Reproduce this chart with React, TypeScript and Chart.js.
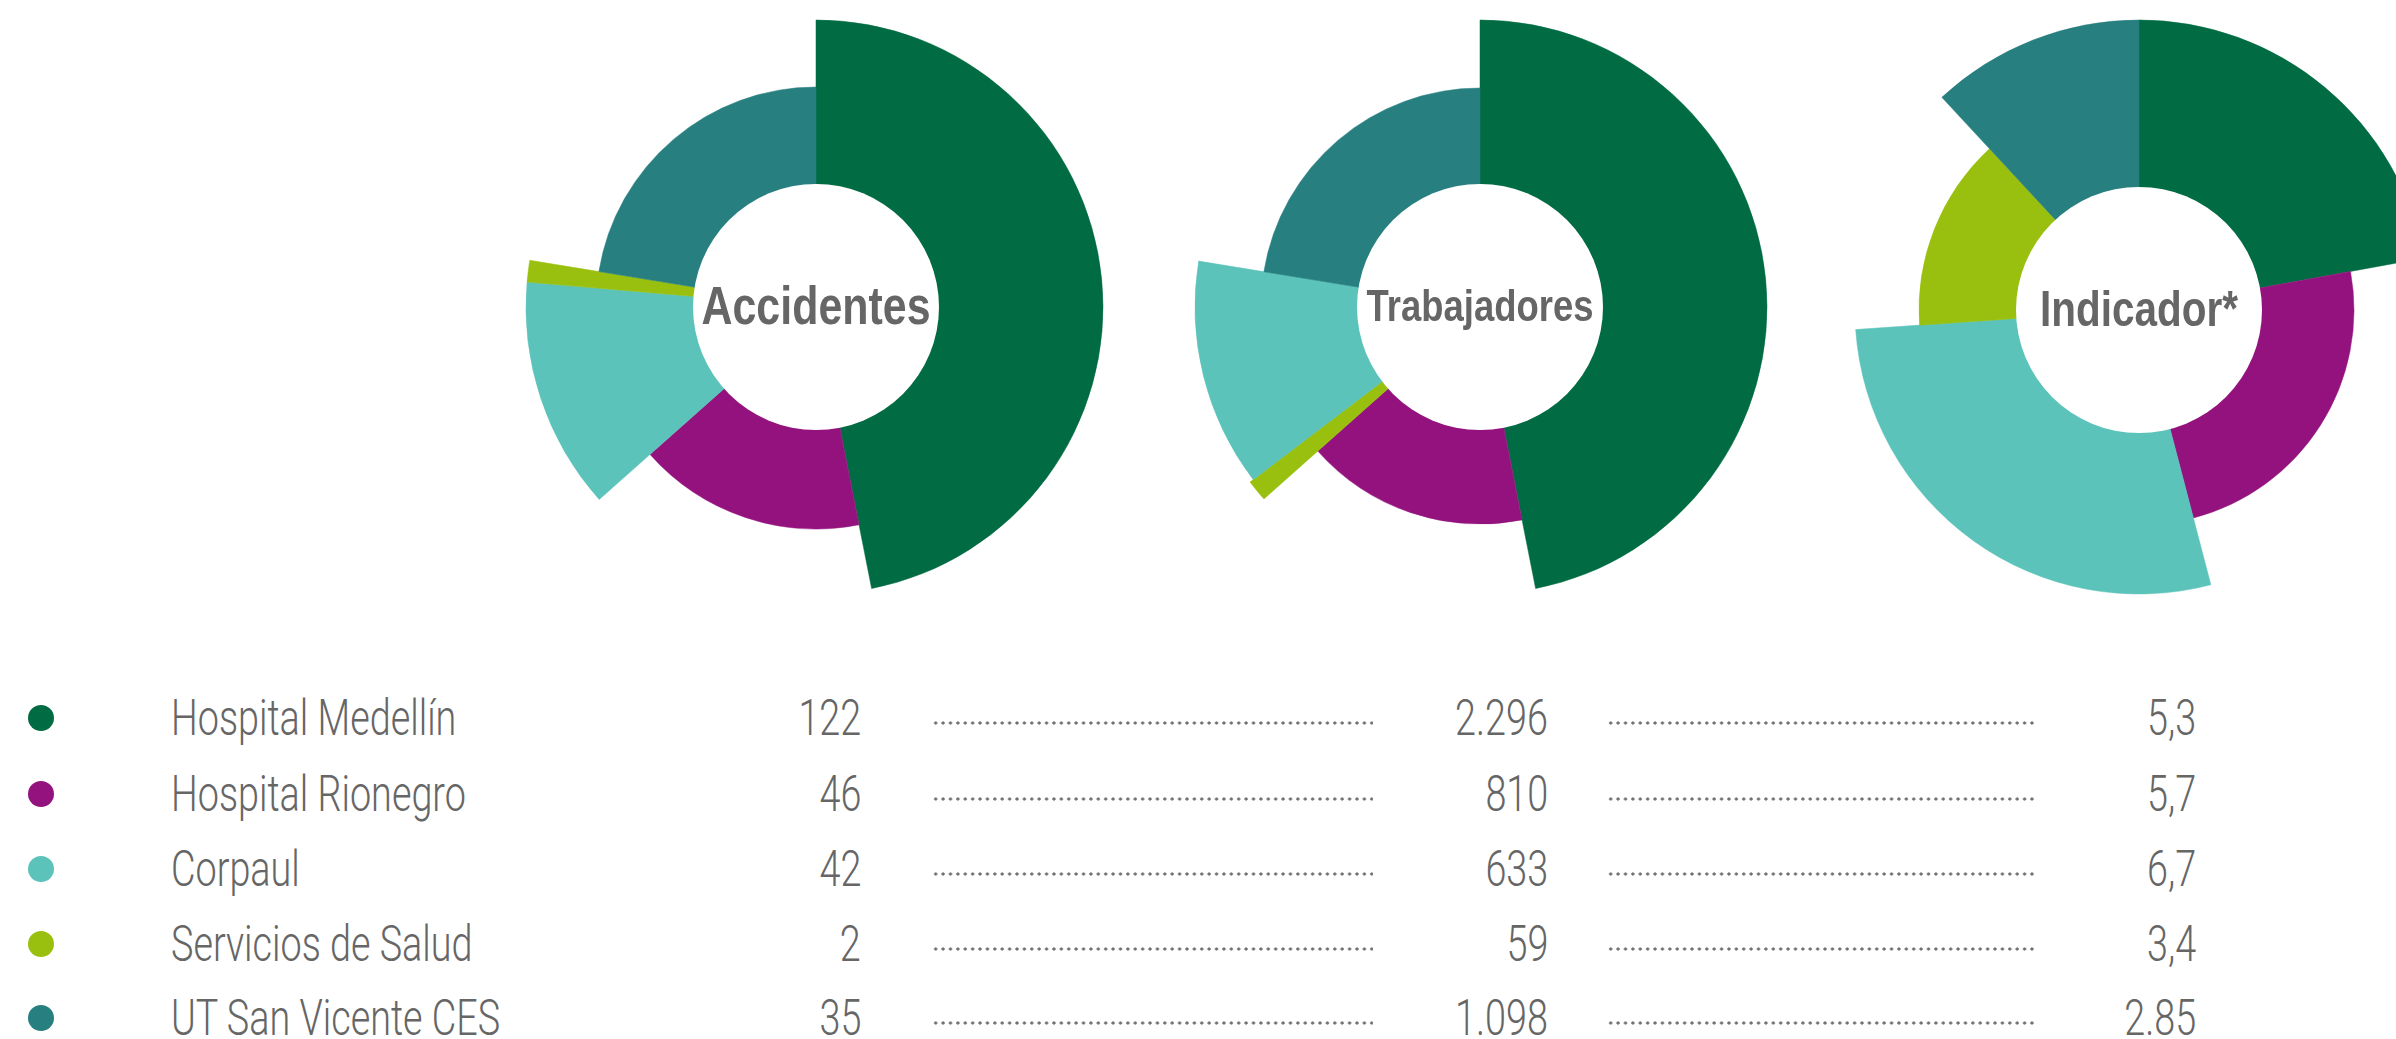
import React, { useEffect, useRef } from 'react';
import { Chart, registerables } from 'chart.js';

Chart.register(...registerables);

// ---------- data ----------
const entities = ['Hospital Medellín', 'Hospital Rionegro', 'Corpaul', 'Servicios de Salud', 'UT San Vicente CES'];
const colors = ['#016b43', '#94127e', '#5bc3ba', '#99c00f', '#287f80'];

const accidentes = [122, 46, 42, 2, 35];
const trabajadores = [2296, 810, 633, 59, 1098];
const indicador = [5.3, 5.7, 6.7, 3.4, 2.85];

const accidentesLabels = ['122', '46', '42', '2', '35'];
const trabajadoresLabels = ['2.296', '810', '633', '59', '1.098'];
const indicadorLabels = ['5,3', '5,7', '6,7', '3,4', '2.85'];

// slice order (entity index) clockwise from 12 o'clock, as drawn in each wheel
const accidentesOrder = [0, 1, 2, 3, 4];
const trabajadoresOrder = [0, 1, 3, 2, 4];
const indicadorOrder = [0, 1, 2, 3, 4];

// outer radius of each slice (entity order)
const accidentesRadius = [287, 222, 290, 290, 220];
const trabajadoresRadius = [287, 217, 285, 289, 219];
const indicadorRadius = [290, 215, 284, 220, 290];

// the sweep of each wheel: the "Accidentes" wheel in the original reuses the worker shares
const accidentesSweep = trabajadores;
const trabajadoresSweep = trabajadores;
const indicadorSweep = indicador;

// ---------- styling ----------
const TITLE_FONT = '"Liberation Sans", Arial, sans-serif';
const TEXT_FONT = 'Roboto, "Liberation Sans", sans-serif';
const TEXT = '#666666';
const SIZE = 600;
const HALF = SIZE / 2;

type WheelProps = {
  title: string;
  titleSize: number;
  order: number[];
  radius: number[];
  sweep: number[];
  cx: number;
  cy: number;
};

function Wheel({ title, titleSize, order, radius, sweep, cx, cy }: WheelProps) {
  const ref = useRef<HTMLCanvasElement | null>(null);
  useEffect(() => {
    if (!ref.current) return;
    const total = sweep.reduce((a, b) => a + b, 0);
    const angles = order.map((i) => (sweep[i] / total) * 360);
    const chart = new Chart(ref.current, {
      type: 'polarArea',
      data: {
        labels: order.map((i) => entities[i]),
        datasets: [
          {
            data: order.map((i) => radius[i]),
            backgroundColor: order.map((i) => colors[i]),
            borderColor: order.map((i) => colors[i]),
            borderWidth: 0.5,
            angle: (ctx: any) => angles[ctx.dataIndex],
          } as any,
        ],
      },
      options: {
        responsive: false,
        animation: false,
        devicePixelRatio: 1,
        events: [],
        layout: { padding: 0 },
        plugins: { legend: { display: false }, tooltip: { enabled: false } },
        scales: { r: { display: false, min: 0, max: HALF } },
      },
      plugins: [
        {
          id: 'centerLabel',
          afterDatasetsDraw(c: any) {
            const s = c.scales.r;
            const g = c.ctx;
            g.save();
            g.beginPath();
            g.arc(s.xCenter, s.yCenter, 123, 0, Math.PI * 2);
            g.fillStyle = '#ffffff';
            g.fill();
            g.translate(s.xCenter, s.yCenter + 2);
            g.scale(0.81, 1);
            g.fillStyle = TEXT;
            g.font = `bold ${titleSize}px ${TITLE_FONT}`;
            g.textAlign = 'center';
            g.textBaseline = 'middle';
            g.fillText(title, 0, 0);
            g.restore();
          },
        },
      ],
    });
    return () => chart.destroy();
  }, []);
  return (
    <canvas
      ref={ref}
      width={SIZE}
      height={SIZE}
      style={{ position: 'absolute', left: cx - HALF, top: cy - HALF, width: SIZE, height: SIZE }}
    />
  );
}

const rowY = [718, 794, 869, 944, 1018];

function Legend() {
  const textStyle: React.CSSProperties = {
    position: 'absolute',
    fontFamily: TEXT_FONT,
    fontWeight: 300,
    fontSize: 50,
    lineHeight: '50px',
    color: TEXT,
    whiteSpace: 'nowrap',
  };
  const left: React.CSSProperties = {
    ...textStyle,
    transform: 'translateY(-50%) scaleX(0.755)',
    transformOrigin: 'left center',
  };
  const right: React.CSSProperties = {
    ...textStyle,
    textAlign: 'right',
    transform: 'translateY(-50%) scaleX(0.755)',
    transformOrigin: 'right center',
  };
  const dots: React.CSSProperties = {
    position: 'absolute',
    height: 4,
    backgroundImage: 'radial-gradient(circle, #707070 1.3px, rgba(255,255,255,0) 1.9px)',
    backgroundSize: '7.4px 4px',
    backgroundRepeat: 'repeat-x',
  };
  return (
    <>
      {entities.map((name, i) => (
        <React.Fragment key={name}>
          <div
            style={{
              position: 'absolute',
              left: 28,
              top: rowY[i] - 13,
              width: 26,
              height: 26,
              borderRadius: '50%',
              background: colors[i],
            }}
          />
          <div style={{ ...left, left: 171, top: rowY[i] }}>{name}</div>
          <div style={{ ...right, right: 2396 - 861, top: rowY[i] }}>{accidentesLabels[i]}</div>
          <div style={{ ...dots, left: 932, width: 441, top: rowY[i] + 3 }} />
          <div style={{ ...right, right: 2396 - 1548, top: rowY[i] }}>{trabajadoresLabels[i]}</div>
          <div style={{ ...dots, left: 1607, width: 429, top: rowY[i] + 3 }} />
          <div style={{ ...right, right: 2396 - 2196, top: rowY[i] }}>{indicadorLabels[i]}</div>
        </React.Fragment>
      ))}
    </>
  );
}

export default function App() {
  return (
    <div
      style={{
        position: 'fixed',
        left: 0,
        top: 0,
        width: 2396,
        height: 1039,
        overflow: 'hidden',
        background: '#ffffff',
      }}
    >
      <Wheel
        title="Accidentes"
        titleSize={53}
        order={accidentesOrder}
        radius={accidentesRadius}
        sweep={accidentesSweep}
        cx={816}
        cy={307}
      />
      <Wheel
        title="Trabajadores"
        titleSize={45}
        order={trabajadoresOrder}
        radius={trabajadoresRadius}
        sweep={trabajadoresSweep}
        cx={1480}
        cy={307}
      />
      <Wheel
        title="Indicador*"
        titleSize={50}
        order={indicadorOrder}
        radius={indicadorRadius}
        sweep={indicadorSweep}
        cx={2139}
        cy={310}
      />
      <Legend />
    </div>
  );
}
